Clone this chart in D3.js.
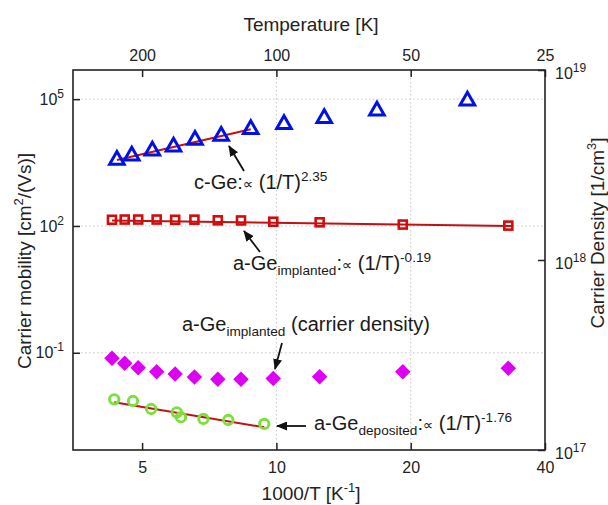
<!DOCTYPE html>
<html>
<head>
<meta charset="utf-8">
<script src="https://cdn.jsdelivr.net/npm/d3@7"></script>
<style>
  body { margin: 0; background: #fff; }
  svg { display: block; font-family: "Liberation Sans", Arial, sans-serif; }
  text { white-space: pre; }
</style>
</head>
<body>
<div id="chart"></div>
<script>
var invT_cGe = [4.39, 4.74, 5.27, 5.88, 6.57, 7.52, 8.76, 10.4, 12.8, 16.8, 26.8];
var mu_cGe = [3640, 4600, 6040, 7510, 10800, 13500, 19400, 25500, 35300, 53400, 92000];

var invT_aGeImp = [4.28, 4.57, 4.90, 5.39, 5.93, 6.55, 7.39, 8.33, 9.84, 12.5, 19.2, 33.1];
var mu_aGeImp = [140, 142, 142, 142, 140, 141, 136, 135, 126, 122, 108, 102];
var n_aGeImp = [3.04e17, 2.86e17, 2.71e17, 2.58e17, 2.51e17, 2.42e17, 2.36e17, 2.36e17, 2.38e17, 2.43e17, 2.58e17, 2.69e17];

var invT_aGeDep = [4.33, 4.77, 5.24, 5.98, 6.11, 6.86, 7.80, 9.39];
var mu_aGeDep = [0.00794, 0.00724, 0.00468, 0.00391, 0.00298, 0.00272, 0.00257, 0.00207];

// power-law fit lines (end points)
var fit_cGe = {x: [4.39, 8.76], y: [3640, 19400]};
var fit_aGeImp = {x: [4.28, 33.8], y: [135, 100]};
var fit_aGeDep = {x: [4.33, 9.39], y: [0.00675, 0.00173]};

var xTicks = [5, 10, 20, 40];
var tempTicks = [200, 100, 50, 25];
var muTicks = [1e-1, 1e2, 1e5];
var nTicks = [1e17, 1e18, 1e19];
var xGrid = [10, 20];

(function () {
var width = 608,
    height = 505,
    pL = 73, pR = 545, pT = 70, pB = 450;

var svg = d3.select("#chart").append("svg")
    .attr("width", width)
    .attr("height", height);

var x = d3.scaleLog().domain([3.5, 40]).range([pL, pR]);
var yL = d3.scaleLog().domain([Math.pow(10, -3.3), Math.pow(10, 5.69)]).range([pB, pT]);
var yR = d3.scaleLog().domain([1e17, 1e19]).range([pB, pT]);

var defs = svg.append("defs");
defs.append("marker")
    .attr("id", "arr")
    .attr("markerUnits", "userSpaceOnUse")
    .attr("markerWidth", 11).attr("markerHeight", 9)
    .attr("refX", 10).attr("refY", 4.5)
    .attr("orient", "auto")
    .append("path")
    .attr("d", "M0,0 L11,4.5 L0,9 Z")
    .attr("fill", "#111");

// grid
svg.append("g").selectAll("line").data(muTicks).enter().append("line")
    .attr("x1", pL).attr("x2", pR)
    .attr("y1", function (d) { return yL(d); })
    .attr("y2", function (d) { return yL(d); })
    .attr("stroke", "#c8c8c8").attr("stroke-dasharray", "1.5,2.5");
svg.append("g").selectAll("line").data(xGrid).enter().append("line")
    .attr("y1", pT).attr("y2", pB)
    .attr("x1", function (d) { return x(d); })
    .attr("x2", function (d) { return x(d); })
    .attr("stroke", "#c8c8c8").attr("stroke-dasharray", "1.5,2.5");

// axes
function sup(sel, exp) {
    sel.text("10").append("tspan")
        .attr("dy", -7).attr("font-size", 12).text(exp);
}

var gB = svg.append("g").attr("transform", "translate(0," + pB + ")")
    .call(d3.axisBottom(x).tickValues(xTicks).tickFormat(d3.format("d"))
        .tickSizeInner(-7).tickSizeOuter(0).tickPadding(12));
var gT = svg.append("g").attr("transform", "translate(0," + pT + ")")
    .call(d3.axisTop(x).tickValues(tempTicks.map(function (t) { return 1000 / t; }))
        .tickFormat(function (v) { return Math.round(1000 / v); })
        .tickSizeInner(-7).tickSizeOuter(0).tickPadding(9));
var gL = svg.append("g").attr("transform", "translate(" + pL + ",0)")
    .call(d3.axisLeft(yL).tickValues(muTicks).tickSizeInner(-7).tickSizeOuter(0).tickPadding(9));
var gR = svg.append("g").attr("transform", "translate(" + pR + ",0)")
    .call(d3.axisRight(yR).tickValues(nTicks).tickSizeInner(-7).tickSizeOuter(0).tickPadding(10));

gL.selectAll(".tick text").each(function (d) { sup(d3.select(this), Math.round(Math.log10(d))); });
gR.selectAll(".tick text").each(function (d) { sup(d3.select(this), Math.round(Math.log10(d))); })
    .attr("dy", "0.5em");

[gB, gT, gL, gR].forEach(function (g) {
    g.select(".domain").remove();
    g.selectAll(".tick line").attr("stroke", "#222").attr("stroke-width", 1.5);
    g.selectAll(".tick text").attr("font-size", 16).attr("fill", "#222")
        .attr("font-family", "Liberation Sans, Arial, sans-serif");
});

svg.append("rect")
    .attr("x", pL).attr("y", pT)
    .attr("width", pR - pL).attr("height", pB - pT)
    .attr("fill", "none").attr("stroke", "#222").attr("stroke-width", 1.6);

// rich text with sub/superscripts
function rich(sel, parts, base) {
    var off = 0;
    parts.forEach(function (p) {
        var k = p[1] || "n";
        var target = k === "sub" ? 5 : (k === "sup" ? -8 : 0);
        var t = sel.append("tspan")
            .attr("dy", target - off)
            .attr("font-size", k === "n" ? base : (k === "sym" ? base * 0.72 : base * 0.68))
            .text(p[0]);
        if (k === "sym") t.attr("font-family", "DejaVu Sans");
        off = target;
    });
}

var tTop = svg.append("text").attr("x", 311).attr("y", 31).attr("text-anchor", "middle").attr("fill", "#222");
rich(tTop, [["Temperature [K]"]], 19);
var tBot = svg.append("text").attr("x", 311).attr("y", 500).attr("text-anchor", "middle").attr("fill", "#222");
rich(tBot, [["1000/T [K"], ["-1", "sup"], ["]"]], 19);
var tL = svg.append("text").attr("transform", "translate(31,261) rotate(-90)").attr("text-anchor", "middle").attr("fill", "#222");
rich(tL, [["Carrier mobility [cm"], ["2", "sup"], ["/(Vs)]"]], 19);
var tR = svg.append("text").attr("transform", "translate(604,233) rotate(-90)").attr("text-anchor", "middle").attr("fill", "#222");
rich(tR, [["Carrier Density [1/cm"], ["3", "sup"], ["]"]], 19);

// fit lines
function pairs(a, b) { return a.map(function (v, i) { return [v, b[i]]; }); }
var line = function (ys) {
    return d3.line().x(function (d) { return x(d[0]); }).y(function (d) { return ys(d[1]); });
};
[fit_cGe, fit_aGeImp, fit_aGeDep].forEach(function (f) {
    svg.append("path")
        .attr("d", line(yL)(pairs(f.x, f.y)))
        .attr("fill", "none").attr("stroke", "#c41010").attr("stroke-width", 2);
});

// markers
svg.append("g").selectAll("path").data(pairs(invT_cGe, mu_cGe)).enter().append("path")
    .attr("d", d3.symbol().type(d3.symbolTriangle).size(92))
    .attr("transform", function (d) { return "translate(" + x(d[0]) + "," + yL(d[1]) + ")"; })
    .attr("fill", "none").attr("stroke", "#0010e8").attr("stroke-width", 3);

svg.append("g").selectAll("rect").data(pairs(invT_aGeImp, mu_aGeImp)).enter().append("rect")
    .attr("x", function (d) { return x(d[0]) - 4; })
    .attr("y", function (d) { return yL(d[1]) - 4; })
    .attr("width", 8).attr("height", 8)
    .attr("fill", "none").attr("stroke", "#d40b0b").attr("stroke-width", 2.6);

svg.append("g").selectAll("path").data(pairs(invT_aGeImp, n_aGeImp)).enter().append("path")
    .attr("d", d3.symbol().type(d3.symbolSquare).size(120))
    .attr("transform", function (d) { return "translate(" + x(d[0]) + "," + yR(d[1]) + ") rotate(45)"; })
    .attr("fill", "#dd00f2");

svg.append("g").selectAll("circle").data(pairs(invT_aGeDep, mu_aGeDep)).enter().append("circle")
    .attr("cx", function (d) { return x(d[0]); })
    .attr("cy", function (d) { return yL(d[1]); })
    .attr("r", 4.7)
    .attr("fill", "none").attr("stroke", "#7ae03c").attr("stroke-width", 2.9);

// annotations (pixel layout)
var notes = [
    {x: 194, y: 189, parts: [["c-Ge:"], ["\u221D", "sym"], [" (1/T)"], ["2.35", "sup"]], arrow: [244, 171, 229, 146]},
    {x: 233, y: 270, parts: [["a-Ge"], ["implanted", "sub"], [":"], ["\u221D", "sym"], [" (1/T)"], ["-0.19", "sup"]], arrow: [260, 252, 244, 231]},
    {x: 182, y: 331, parts: [["a-Ge"], ["implanted", "sub"], [" (carrier density)"]], arrow: [282, 343, 275, 369]},
    {x: 314, y: 430, parts: [["a-Ge"], ["deposited", "sub"], [":"], ["\u221D", "sym"], [" (1/T)"], ["-1.76", "sup"]], arrow: [306, 426, 277, 426]}
];
notes.forEach(function (n) {
    var t = svg.append("text").attr("x", n.x).attr("y", n.y).attr("fill", "#1a1a1a");
    rich(t, n.parts, 20);
    svg.append("line")
        .attr("x1", n.arrow[0]).attr("y1", n.arrow[1])
        .attr("x2", n.arrow[2]).attr("y2", n.arrow[3])
        .attr("stroke", "#111").attr("stroke-width", 1.8)
        .attr("marker-end", "url(#arr)");
});
})();
</script>
</body>
</html>
